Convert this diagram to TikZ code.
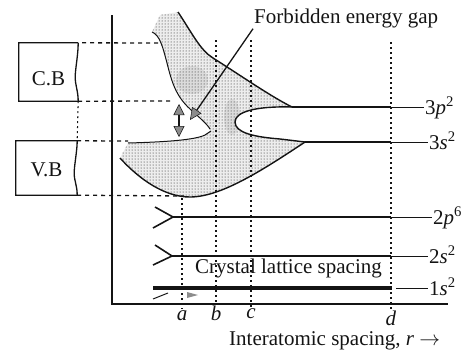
\documentclass[tikz,border=0pt]{standalone}
\usepackage{fontspec}
\setmainfont{Liberation Serif}
\usepackage{tikz}
\usetikzlibrary{arrows.meta,calc,patterns}
\definecolor{ink}{gray}{0.08}
\definecolor{stip}{gray}{0.05}
\definecolor{haze}{gray}{0.93}
\definecolor{blob}{gray}{0.86}
\definecolor{tipgray}{gray}{0.55}
\tikzset{
  lbl/.style={font=\fontsize{21}{25}\selectfont,text=ink,inner sep=1pt},
  edge/.style={ink,line width=1.4pt},
  rim/.style={ink,line width=1pt},
  lvl/.style={ink,line width=1.6pt},
  tail/.style={ink,line width=0.7pt},
  axis/.style={ink,line width=1.2pt},
  hdash/.style={ink,line width=1.3pt,dash pattern=on 4pt off 4pt},
  vdot/.style={ink,line width=1.1pt,dash pattern=on 2pt off 3pt},
  fat/.tip={Triangle[width=11pt,length=11pt,fill=tipgray,line width=0.5pt]}
}

\begin{document}
\begin{tikzpicture}[x=1pt,y=-1pt]
  \useasboundingbox (0,0) rectangle (462,351);
  \begin{scope}
    \clip (152,32) -- (160,15) -- (178,12) .. controls (192,33) and (200,50) .. (213,58)
      .. controls (240,75) and (270,96) .. (292,107) .. controls (255,106) and (235,112) .. (235,122)
      .. controls (235,133) and (255,137) .. (280,139) -- (305,142)
      .. controls (260,172) and (220,197) .. (190,197) .. controls (165,197) and (140,180) .. (120,158)
      -- (128,143) .. controls (165,142) and (195,140) .. (205,135) -- (211,131)
      .. controls (207,124) and (200,118) .. (190,109) .. controls (176,96) and (172,83) .. (167,63)
      .. controls (163,48) and (160,35) .. (152,32) -- cycle;
    \fill[haze] (100,0) rectangle (320,210);
    \fill[blob] (192,80) ellipse [x radius=16,y radius=14];
    \fill[blob] (232,117) ellipse [x radius=8,y radius=18];
    \fill[pattern=dots,pattern color=stip] (100,0) rectangle (320,210);
  \end{scope}

  \coordinate (p3) at (292,107);
  \coordinate (s3) at (305,142);
  \draw[edge] (178,12) .. controls (192,33) and (200,50) .. (213,58) .. controls (240,75) and (270,96) .. (p3);
  \draw[edge] (p3) .. controls (255,106) and (235,112) .. (235,122) .. controls (235,133) and (255,137) .. (280,139) -- (s3);
  \draw[edge] (s3) .. controls (260,172) and (220,197) .. (190,197) .. controls (165,197) and (140,180) .. (120,158);
  \draw[rim] (128,143) .. controls (165,142) and (195,140) .. (205,135) -- (211,131);
  \draw[rim] (152,32) .. controls (160,35) and (163,48) .. (167,63) .. controls (172,83) and (176,96) .. (190,109) .. controls (200,118) and (207,124) .. (210,129);

  \coordinate (ytop) at (112,15);
  \coordinate (o) at (112,304);
  \coordinate (xtip) at (448,304);
  \draw[axis] (ytop) -- (o) -- (xtip);

  \node[lbl,anchor=base,minimum width=59pt,text height=42pt,text depth=16pt,inner sep=0pt] (cb) at (48.5,85) {C.B};
  \node[lbl,anchor=base,minimum width=61pt,text height=35pt,text depth=19pt,inner sep=0pt] (vb) at (46.5,176) {V.B};
  \draw[rim,line width=1.3pt] (cb.north east) -- (cb.north west) -- (cb.south west) -- (cb.south east)
    .. controls +(0,-10) and +(0,8) .. ($(cb.south east)+(-3,-24)$) .. controls +(0,-8) and +(0,12) .. (cb.north east);
  \draw[rim,line width=1.3pt] (vb.north east) -- (vb.north west) -- (vb.south west) -- (vb.south east)
    .. controls +(0,-10) and +(0,8) .. ($(vb.south east)+(-3,-22)$) .. controls +(0,-8) and +(0,10) .. (vb.north east);

  \coordinate (cbHi) at (158,43);
  \coordinate (cbLo) at (172,101);
  \coordinate (vbHi) at (128,141);
  \coordinate (vbLo) at (184,196);
  \draw[hdash,shorten <=4pt] (cb.north east) -- (cbHi);
  \draw[hdash] (cb.south east) -- (cbLo);
  \draw[hdash] (vb.north east) -- (vbHi);
  \draw[hdash] (vb.south east) -- (vbLo);
  \draw[vdot] (cb.south east) -- (vb.north east);

  \foreach \lab/\xx/\yt/\yb in {a/182/198/320,b/216/40/320,c/251/40/318,d/391/42/325}{
    \coordinate (t\lab) at (\xx,\yt);
    \node[lbl,anchor=base] (l\lab) at (\xx,\yb) {\textit{\lab}};
    \draw[vdot] (t\lab) -- (l\lab.north);
  }

  \coordinate (p2) at (173,217);
  \coordinate (s2) at (172,256);
  \draw[lvl] (155,207) -- (p2) -- (153,228);
  \draw[lvl] (155,245) -- (s2) -- (153,265);
  \foreach \nm/\yy/\xs/\xl/\txt in {3p/107/292/424/3\textit{p}\textsuperscript{2},
      3s/142/305/428/3\textit{s}\textsuperscript{2},
      2p/217/173/432/2\textit{p}\textsuperscript{6},
      2s/256/172/428/2\textit{s}\textsuperscript{2}}{
    \coordinate (b\nm) at (\xs,\yy);
    \coordinate (d\nm) at (391,\yy);
    \node[lbl,anchor=base west] (l\nm) at (\xl,\yy+7) {\txt};
    \draw[lvl] (b\nm) -- (d\nm);
    \draw[tail] (d\nm) -- (l\nm.west |- d\nm);
  }
  \coordinate (b1s) at (153,288);
  \coordinate (d1s) at (392,288);
  \coordinate (e1s) at (396,288);
  \node[lbl,anchor=base west] (l1s) at (428,295) {1\textit{s}\textsuperscript{2}};
  \draw[ink,line width=3.4pt] (b1s) -- (d1s);
  \draw[tail] (e1s) -- (l1s.west |- e1s);
  \draw[ink,line width=1pt] (153,299) -- (168,293);
  \fill[tipgray] (187,292) -- (198,295) -- (187,298) -- cycle;

  \coordinate (gHi) at (179,104);
  \coordinate (gLo) at (179,137);
  \draw[ink,line width=1.3pt,fat-fat] (gHi) -- (gLo);

  \node[lbl,anchor=base west] (fgap) at (253,23) {Forbidden energy gap};
  \coordinate (gapTip) at (190,120);
  \draw[ink,line width=1.3pt,-{Triangle[width=11pt,length=12pt,fill=tipgray,line width=0.5pt]}] (fgap.south west) -- (gapTip);

  \node[lbl,anchor=base west] (cls) at (194,273) {Crystal lattice spacing};
  \node[lbl,anchor=base west] (xlab) at (228,345) {Interatomic spacing, \textit{r} $\rightarrow$};
\end{tikzpicture}
\end{document}
